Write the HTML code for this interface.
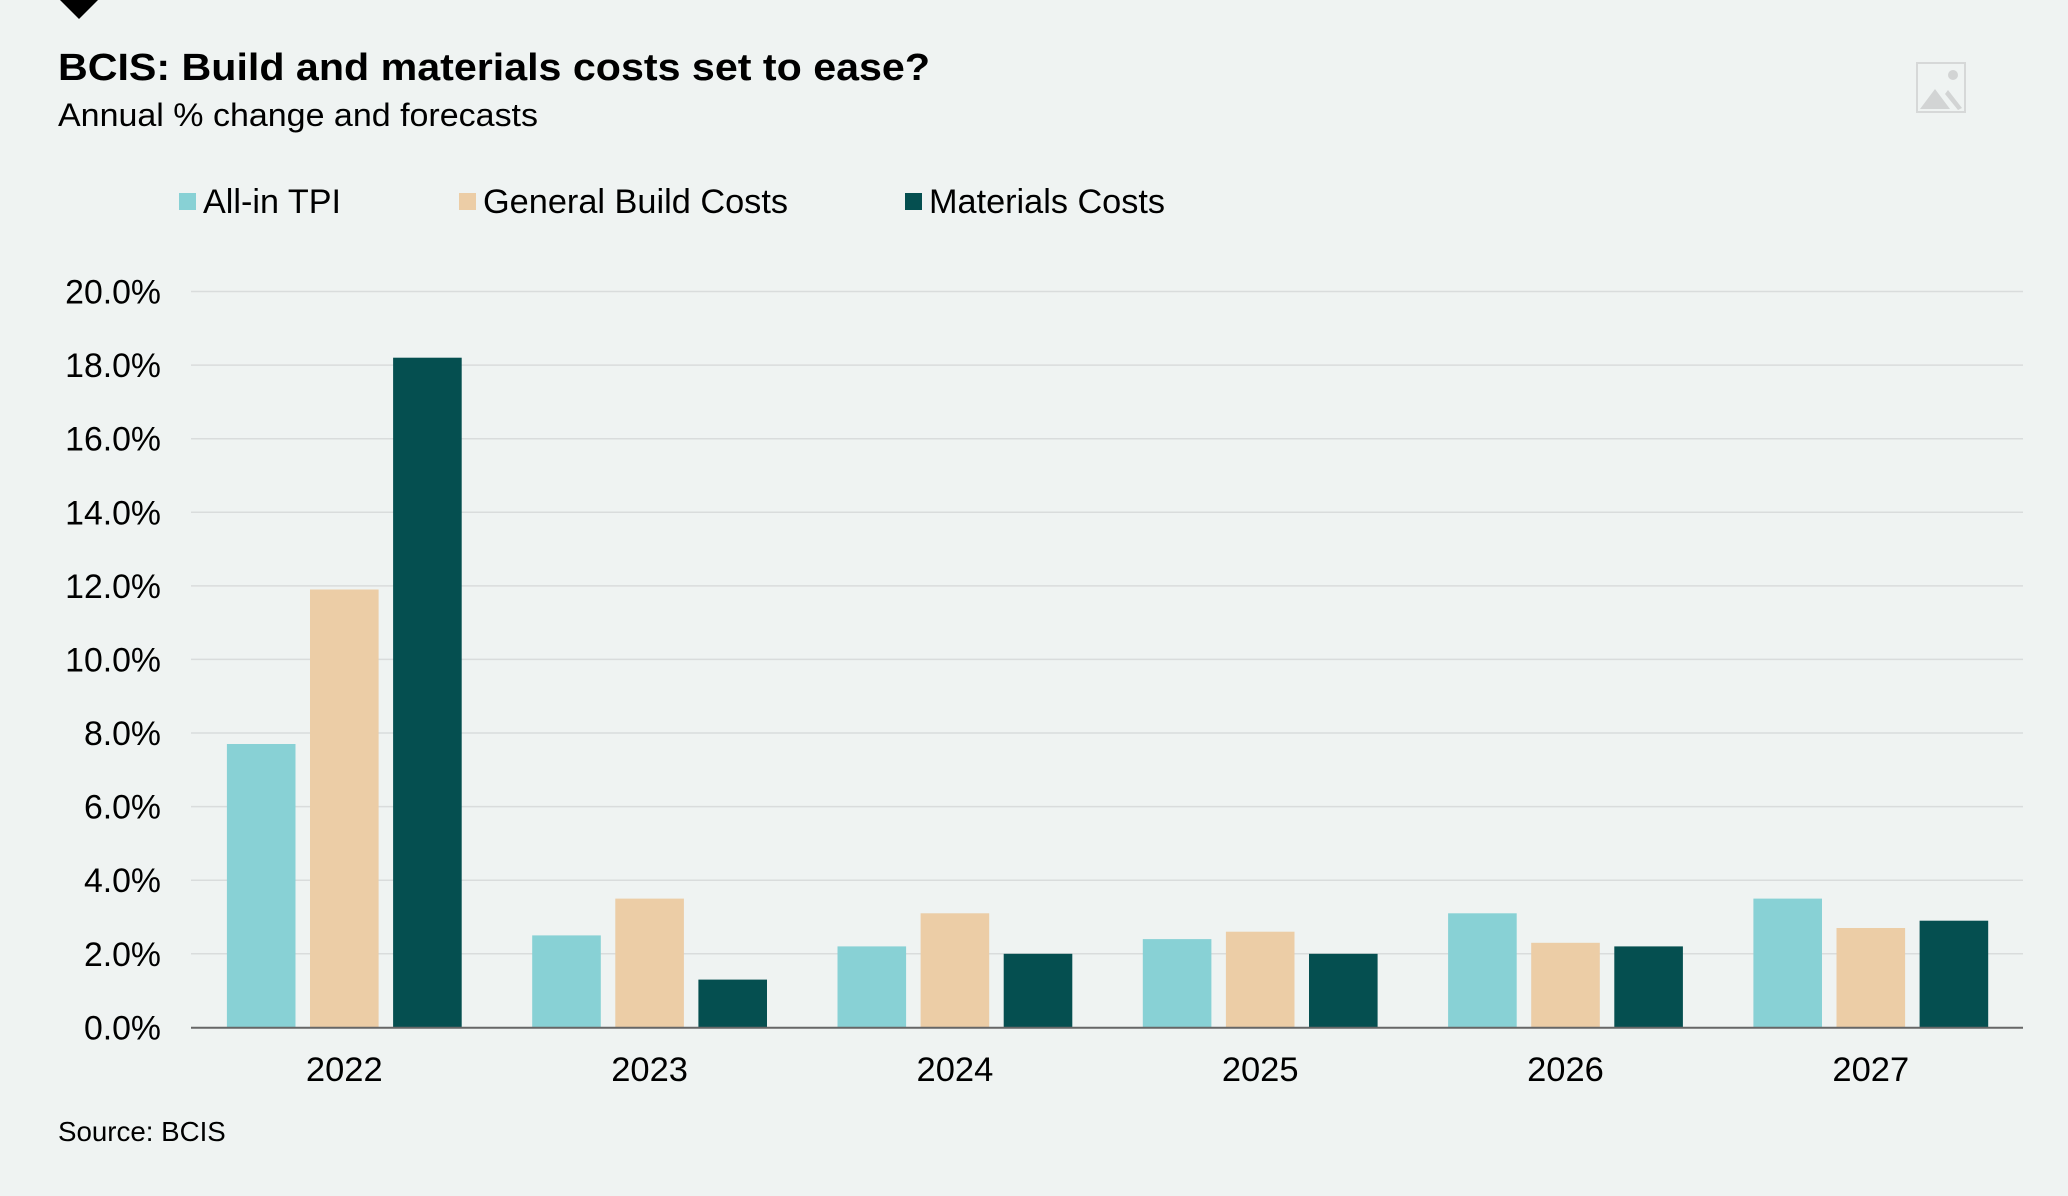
<!DOCTYPE html>
<html><head><meta charset="utf-8"><style>
html,body{margin:0;padding:0;background:#eff3f2;}
svg{display:block;font-family:"Liberation Sans",Arial,sans-serif;}
</style></head><body>
<svg width="2068" height="1196" viewBox="0 0 2068 1196" xmlns="http://www.w3.org/2000/svg">
<rect width="2068" height="1196" fill="#eff3f2"/>
<polygon points="60,0 98,0 79,19" fill="#000"/>
<g>
<rect x="1917" y="63" width="48" height="49" fill="none" stroke="#d6d8d8" stroke-width="2"/>
<circle cx="1953" cy="75" r="5" fill="#d2d4d4"/>
<polygon points="1920,109 1935,89 1950,109" fill="#d2d4d4"/>
<polygon points="1945,94 1948,90 1962,108 1958,110" fill="#d2d4d4"/>
</g>
<text x="58" y="80" font-size="38" font-weight="bold" fill="#000" textLength="872" lengthAdjust="spacingAndGlyphs">BCIS: Build and materials costs set to ease?</text>
<text x="58" y="126" font-size="32" fill="#000" textLength="480" lengthAdjust="spacingAndGlyphs">Annual % change and forecasts</text>
<rect x="179" y="193" width="17" height="17" fill="#88d1d5"/>
<text x="203" y="213" font-size="34" fill="#000" textLength="138" lengthAdjust="spacingAndGlyphs">All-in TPI</text>
<rect x="459" y="193" width="17" height="17" fill="#eccda6"/>
<text x="483" y="213" font-size="34" fill="#000" textLength="305" lengthAdjust="spacingAndGlyphs">General Build Costs</text>
<rect x="905" y="193" width="17" height="17" fill="#054f50"/>
<text x="929" y="213" font-size="34" fill="#000" textLength="236" lengthAdjust="spacingAndGlyphs">Materials Costs</text>
<g stroke="#d9dcdc" stroke-width="1.5">
<line x1="191" x2="2023" y1="291.5" y2="291.5"/>
<line x1="191" x2="2023" y1="365.1" y2="365.1"/>
<line x1="191" x2="2023" y1="438.7" y2="438.7"/>
<line x1="191" x2="2023" y1="512.3" y2="512.3"/>
<line x1="191" x2="2023" y1="585.9" y2="585.9"/>
<line x1="191" x2="2023" y1="659.4" y2="659.4"/>
<line x1="191" x2="2023" y1="733" y2="733"/>
<line x1="191" x2="2023" y1="806.6" y2="806.6"/>
<line x1="191" x2="2023" y1="880.2" y2="880.2"/>
<line x1="191" x2="2023" y1="953.8" y2="953.8"/>
</g>
<g font-size="33.8" fill="#000" text-anchor="end">
<text x="161" y="303.5">20.0%</text>
<text x="161" y="377.1">18.0%</text>
<text x="161" y="450.7">16.0%</text>
<text x="161" y="524.3">14.0%</text>
<text x="161" y="597.9">12.0%</text>
<text x="161" y="671.4">10.0%</text>
<text x="161" y="745">8.0%</text>
<text x="161" y="818.6">6.0%</text>
<text x="161" y="892.2">4.0%</text>
<text x="161" y="965.8">2.0%</text>
<text x="161" y="1039.4">0.0%</text>
</g>
<g>
<rect x="226.9" y="744.0" width="68.6" height="283.4" fill="#88d1d5"/>
<rect x="310.0" y="589.5" width="68.6" height="437.9" fill="#eccda6"/>
<rect x="393.1" y="357.7" width="68.6" height="669.7" fill="#054f50"/>
<rect x="532.2" y="935.4" width="68.6" height="92.0" fill="#88d1d5"/>
<rect x="615.3" y="898.6" width="68.6" height="128.8" fill="#eccda6"/>
<rect x="698.4" y="979.6" width="68.6" height="47.8" fill="#054f50"/>
<rect x="837.5" y="946.4" width="68.6" height="81.0" fill="#88d1d5"/>
<rect x="920.6" y="913.3" width="68.6" height="114.1" fill="#eccda6"/>
<rect x="1003.7" y="953.8" width="68.6" height="73.6" fill="#054f50"/>
<rect x="1142.8" y="939.1" width="68.6" height="88.3" fill="#88d1d5"/>
<rect x="1225.9" y="931.7" width="68.6" height="95.7" fill="#eccda6"/>
<rect x="1309.0" y="953.8" width="68.6" height="73.6" fill="#054f50"/>
<rect x="1448.1" y="913.3" width="68.6" height="114.1" fill="#88d1d5"/>
<rect x="1531.2" y="942.8" width="68.6" height="84.6" fill="#eccda6"/>
<rect x="1614.3" y="946.4" width="68.6" height="81.0" fill="#054f50"/>
<rect x="1753.4" y="898.6" width="68.6" height="128.8" fill="#88d1d5"/>
<rect x="1836.5" y="928.0" width="68.6" height="99.4" fill="#eccda6"/>
<rect x="1919.6" y="920.7" width="68.6" height="106.7" fill="#054f50"/>
</g>
<line x1="191" x2="2023" y1="1027.8" y2="1027.8" stroke="#666" stroke-width="2"/>
<g font-size="34.5" fill="#000" text-anchor="middle">
<text x="344.3" y="1081">2022</text>
<text x="649.6" y="1081">2023</text>
<text x="954.9" y="1081">2024</text>
<text x="1260.2" y="1081">2025</text>
<text x="1565.5" y="1081">2026</text>
<text x="1870.8" y="1081">2027</text>
</g>
<text x="58" y="1141" font-size="27.7" fill="#000">Source: BCIS</text>
</svg>
</body></html>
